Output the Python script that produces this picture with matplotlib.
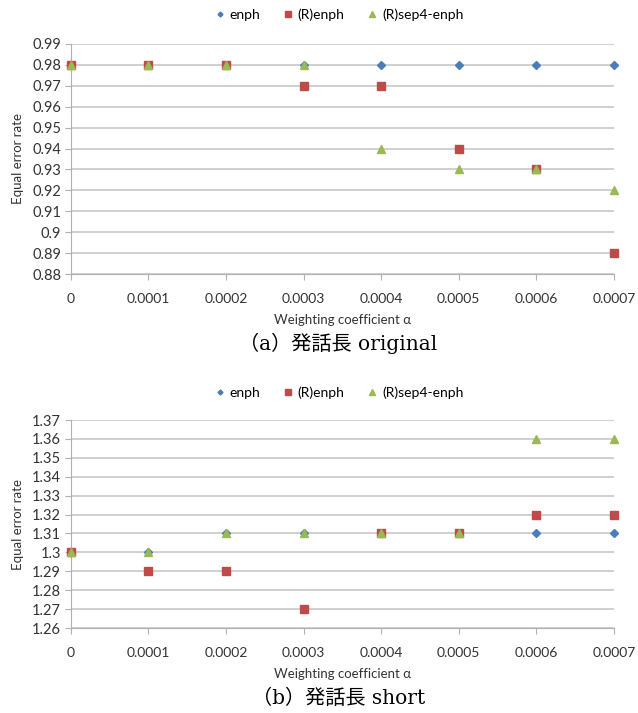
import matplotlib
matplotlib.use('Agg')
import matplotlib.pyplot as plt

# ── Data ──────────────────────────────────────────────────────────────────────
alpha = [0, 0.0001, 0.0002, 0.0003, 0.0004, 0.0005, 0.0006, 0.0007]
alpha_labels = ['0', '0.0001', '0.0002', '0.0003', '0.0004', '0.0005', '0.0006', '0.0007']

# (a) original
orig_enph     = [0.98, 0.98, 0.98, 0.98, 0.98, 0.98, 0.98, 0.98]
orig_r_enph   = [0.98, 0.98, 0.98, 0.97, 0.97, 0.94, 0.93, 0.89]
orig_sep4     = [0.98, 0.98, 0.98, 0.98, 0.94, 0.93, 0.93, 0.92]
orig_yticks   = [0.88, 0.89, 0.9, 0.91, 0.92, 0.93, 0.94, 0.95, 0.96, 0.97, 0.98, 0.99]

# (b) short
short_enph    = [1.30, 1.30, 1.31, 1.31, 1.31, 1.31, 1.31, 1.31]
short_r_enph  = [1.30, 1.29, 1.29, 1.27, 1.31, 1.31, 1.32, 1.32]
short_sep4    = [1.30, 1.30, 1.31, 1.31, 1.31, 1.31, 1.36, 1.36]
short_yticks  = [1.26, 1.27, 1.28, 1.29, 1.3, 1.31, 1.32, 1.33, 1.34, 1.35, 1.36, 1.37]

SERIES = ['enph', '(R)enph', '(R)sep4-enph']
COLORS = ['#4A7EBB', '#BE4B48', '#98B954']
MARKERS = ['D', 's', '^']
SIZES = [3.6, 5.6, 5.4]

FONT = 'Lato'
CAP_FONT = ['DejaVu Serif', 'Noto Sans CJK JP']

fig = plt.figure(figsize=(6.38, 7.13), dpi=100)
fig.patch.set_facecolor('white')


def panel(rect, ys, yticks, caption, cap_y, leg_y):
    ax = fig.add_axes(rect)
    handles = []
    for vals, name, c, m, s in zip(ys, SERIES, COLORS, MARKERS, SIZES):
        h, = ax.plot(alpha, vals, linestyle='none', marker=m, markersize=s,
                     color=c, markeredgecolor=c, label=name, zorder=3,
                     clip_on=False)
        handles.append(h)
    ax.set_xlim(0, 0.0007)
    ax.set_ylim(yticks[0], yticks[-1])
    ax.set_xticks(alpha)
    ax.set_xticklabels(alpha_labels, fontsize=10, family=FONT, color='#333333')
    ax.set_yticks(yticks)
    ax.set_yticklabels([f'{t:g}' for t in yticks], fontsize=10.5, family=FONT,
                       color='#333333')
    ax.grid(axis='y', color='#c8c8c8', linewidth=1.2)
    ax.set_axisbelow(True)
    for sp in ['top', 'right']:
        ax.spines[sp].set_visible(False)
    ax.spines['left'].set_color('#b0b0b0')
    ax.spines['bottom'].set_color('#b0b0b0')
    ax.tick_params(axis='y', length=4, color='#b0b0b0', pad=3)
    ax.tick_params(axis='x', length=4, color='#b0b0b0', pad=10)
    ax.set_xlabel('Weighting coefficient α', fontsize=9.5, family=FONT,
                  color='#333333', labelpad=6)
    ax.set_ylabel('Equal error rate', fontsize=9.5, family=FONT,
                  color='#333333', labelpad=6)
    fig.legend(handles=handles, loc='center', bbox_to_anchor=(0.53, leg_y),
               ncol=3, frameon=False, prop={'family': FONT, 'size': 10},
               handletextpad=0.2, columnspacing=1.5, markerscale=0.7,
               handlelength=1)
    fig.text(0.53, cap_y, caption, ha='center', va='center', fontsize=14.5,
             family=CAP_FONT)
    return ax


panel([0.111, 0.6157, 0.851, 0.3226],
      [orig_enph, orig_r_enph, orig_sep4], orig_yticks,
      '（a）発話長 original', 1 - 343 / 713, 1 - 15 / 713)
panel([0.111, 0.1192, 0.851, 0.2917],
      [short_enph, short_r_enph, short_sep4], short_yticks,
      '（b）発話長 short', 1 - 698 / 713, 1 - 393 / 713)

fig.savefig('out.png', dpi=100, facecolor='white')
